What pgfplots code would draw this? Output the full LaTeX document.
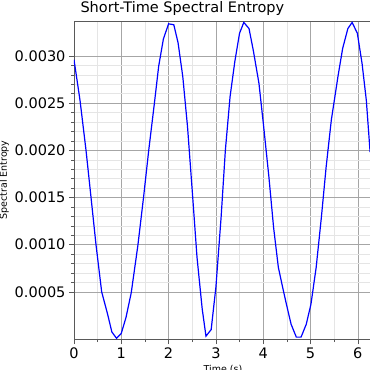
\documentclass[border=0pt]{standalone}
\usepackage{fontspec}
\setmainfont{DejaVu Sans}
\usepackage{pgfplots}
\pgfplotsset{compat=1.18}
\begin{document}
\begin{tikzpicture}
\begin{axis}[
 scale only axis, width=298pt, height=318pt,
 xmin=0, xmax=6.3, ymin=0, ymax=0.00337,
 xtick={0,1,2,3,4,5,6}, minor x tick num=1,
 ytick={0.0005,0.001,0.0015,0.002,0.0025,0.003}, minor y tick num=4,
 xtick pos=bottom, ytick pos=left,
 grid=both, major grid style={color=black!35}, minor grid style={color=black!10},
 tick align=outside, major tick length=5pt, minor tick length=3pt,
 axis line style={color=black!65},
 every tick/.style={black!65},
 scaled y ticks=false,
 yticklabel style={/pgf/number format/fixed, /pgf/number format/precision=4, /pgf/number format/fixed zerofill},
 /pgf/number format/assume math mode=true,
 tick label style={font=\fontsize{14.5}{17}\selectfont, black},
 ylabel={Spectral Entropy}, xlabel={Time (s)},
 label style={font=\fontsize{9.5}{11}\selectfont},
 ylabel style={yshift=-1pt},
 title={Short-Time Spectral Entropy},
 title style={font=\fontsize{14.5}{17}\selectfont, at={(0,1)}, anchor=south west, xshift=3pt, yshift=-4pt},
]
\addplot[color=blue, line width=1.2pt] coordinates {
(0,0.00296) (0.127,0.00253) (0.254,0.0020) (0.36,0.0015) (0.465,0.0010)
(0.585,0.0005) (0.712,0.00026) (0.80,0.000075) (0.90,0.000007) (1.0,0.00006)
(1.10,0.00023) (1.21,0.00049) (1.35,0.00099) (1.47,0.0015) (1.58,0.0020)
(1.70,0.0025) (1.79,0.00289) (1.89,0.00318) (2.0,0.00334) (2.11,0.00333)
(2.20,0.00314) (2.30,0.00278) (2.40,0.00225) (2.51,0.0015) (2.60,0.00087)
(2.71,0.00032) (2.79,0.00003) (2.90,0.0001) (3.0,0.00055) (3.11,0.00129)
(3.20,0.0020) (3.30,0.00257) (3.40,0.00294) (3.50,0.00324) (3.59,0.003355)
(3.70,0.00329) (3.79,0.00306) (3.91,0.00271) (4.01,0.00225) (4.12,0.00172)
(4.22,0.00118) (4.32,0.00076) (4.41,0.00055) (4.49,0.00037) (4.59,0.000156)
(4.70,0.00002) (4.80,0.00002) (4.91,0.000156) (5.01,0.00037) (5.12,0.00076)
(5.23,0.00129) (5.33,0.00182) (5.44,0.00232) (5.58,0.00278) (5.68,0.00308)
(5.79,0.00329) (5.88,0.003355) (5.99,0.00324) (6.09,0.00292) (6.18,0.00253)
(6.26,0.00198)
};
\end{axis}
\pgfresetboundingbox
\path[use as bounding box] (-74pt,-31pt) rectangle (296pt,339pt);
\end{tikzpicture}
\end{document}
